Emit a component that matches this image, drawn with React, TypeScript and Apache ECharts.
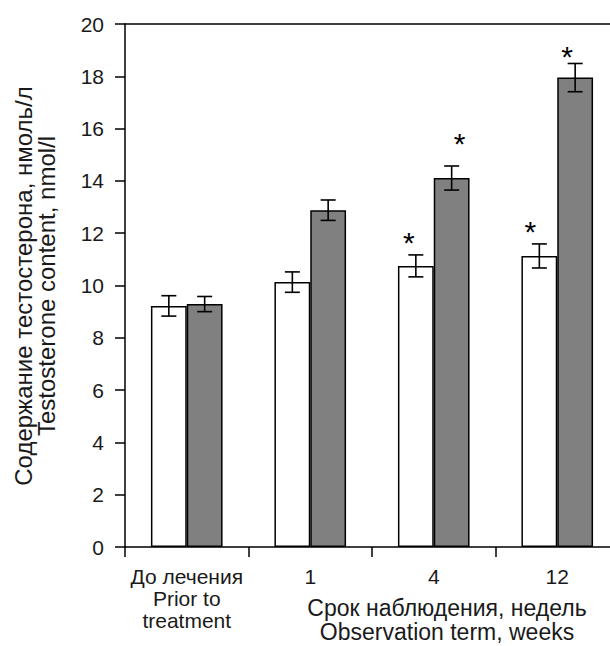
import React, { useEffect, useRef } from 'react';
import * as echarts from 'echarts';

const categories = ['До лечения\nPrior to\ntreatment', '1', '4', '12'];
const whiteValues = [9.22, 10.13, 10.75, 11.13];
const grayValues = [9.29, 12.88, 14.11, 17.95];
const whiteErrors = [0.39, 0.39, 0.42, 0.46];
const grayErrors = [0.29, 0.39, 0.46, 0.54];
const whiteStars: (number | null)[] = [null, null, 11.82, 12.24];
const grayStars: (number | null)[] = [null, null, 15.6, 18.93];
const yMin = 0;
const yMax = 20;
const yStep = 2;
const yAxisTitle = 'Содержание тестостерона, нмоль/л\nTestosterone content, nmol/l';
const xAxisTitle = 'Срок наблюдения, недель\nObservation term, weeks';

// horizontal nudges of the asterisks (pixels), styling only
const whiteStarShift = [0, 0, -7, -9];
const grayStarShift = [0, 0, 8, -8];

const FONT = '"Liberation Sans", Arial, sans-serif';
const BAR_FRAC = 0.29;

function errorSeries(values: number[], errors: number[], sign: number) {
  return {
    type: 'custom',
    z: 5,
    data: values.map((v, i) => [i, v - errors[i], v + errors[i]]),
    encode: { x: 0, y: [1, 2] },
    renderItem: (params: any, api: any) => {
      const i = api.value(0);
      const lo = api.coord([i, api.value(1)]);
      const hi = api.coord([i, api.value(2)]);
      const band = api.size([1, 0])[0];
      const cx = lo[0] + (sign * band * BAR_FRAC) / 2;
      const hw = 7.5;
      const st = { stroke: '#000', lineWidth: 1.6 };
      return {
        type: 'group',
        children: [
          { type: 'line', shape: { x1: cx, y1: lo[1], x2: cx, y2: hi[1] }, style: st },
          { type: 'line', shape: { x1: cx - hw, y1: lo[1], x2: cx + hw, y2: lo[1] }, style: st },
          { type: 'line', shape: { x1: cx - hw, y1: hi[1], x2: cx + hw, y2: hi[1] }, style: st },
        ],
      };
    },
  };
}

function starSeries(stars: (number | null)[], sign: number, shifts: number[]) {
  const data: number[][] = [];
  stars.forEach((s, i) => {
    if (s !== null) data.push([i, s]);
  });
  return {
    type: 'custom',
    z: 6,
    data,
    encode: { x: 0, y: 1 },
    renderItem: (params: any, api: any) => {
      const i = api.value(0);
      const p = api.coord([i, api.value(1)]);
      const band = api.size([1, 0])[0];
      const cx = p[0] + (sign * band * BAR_FRAC) / 2 + shifts[i];
      const fs = 30;
      return {
        type: 'text',
        x: cx,
        y: p[1] + fs * 0.14,
        style: {
          text: '*',
          fontSize: fs,
          fontFamily: FONT,
          fill: '#000',
          align: 'center',
          verticalAlign: 'middle',
        },
      };
    },
  };
}

export default function App() {
  const ref = useRef<HTMLDivElement>(null);
  useEffect(() => {
    if (!ref.current) return;
    const chart = echarts.init(ref.current, undefined, { renderer: 'svg' });
    const axisLine = { show: true, lineStyle: { color: '#000', width: 1.5 } };
    chart.setOption({
      animation: false,
      backgroundColor: '#fff',
      grid: { left: 125, top: 24, bottom: 99, right: 0, containLabel: false },
      xAxis: [
        {
          type: 'category',
          data: categories,
          position: 'bottom',
          axisLine,
          axisTick: { show: true, length: 10, lineStyle: { color: '#000', width: 1.5 } },
          axisLabel: {
            color: '#1a1a1a',
            fontFamily: FONT,
            fontSize: 21,
            lineHeight: 22,
            margin: 18,
            interval: 0,
          },
          splitLine: { show: false },
        },
        {
          type: 'category',
          data: categories,
          position: 'top',
          axisLine,
          axisTick: { show: false },
          axisLabel: { show: false },
          splitLine: { show: false },
        },
      ],
      yAxis: {
        type: 'value',
        min: yMin,
        max: yMax,
        interval: yStep,
        axisLine,
        axisTick: { show: true, length: 10, lineStyle: { color: '#000', width: 1.5 } },
        axisLabel: { color: '#1a1a1a', fontFamily: FONT, fontSize: 21, margin: 21 },
        splitLine: { show: false },
      },
      graphic: [
        {
          type: 'text',
          x: 35,
          y: 286,
          rotation: Math.PI / 2,
          style: {
            text: yAxisTitle,
            fontFamily: FONT,
            fontSize: 24,
            lineHeight: 23,
            fill: '#1a1a1a',
            align: 'center',
            verticalAlign: 'middle',
          },
        },
        {
          type: 'text',
          x: 447,
          y: 620,
          style: {
            text: xAxisTitle,
            fontFamily: FONT,
            fontSize: 23,
            lineHeight: 24,
            fill: '#1a1a1a',
            align: 'center',
            verticalAlign: 'middle',
          },
        },
      ],
      series: [
        {
          type: 'bar',
          data: whiteValues,
          barWidth: BAR_FRAC * 100 + '%',
          barGap: '0%',
          itemStyle: { color: '#ffffff', borderColor: '#000', borderWidth: 1.5 },
        },
        {
          type: 'bar',
          data: grayValues,
          barWidth: BAR_FRAC * 100 + '%',
          barGap: '0%',
          itemStyle: { color: '#808080', borderColor: '#000', borderWidth: 1.5 },
        },
        errorSeries(whiteValues, whiteErrors, -1),
        errorSeries(grayValues, grayErrors, 1),
        starSeries(whiteStars, -1, whiteStarShift),
        starSeries(grayStars, 1, grayStarShift),
      ],
    });
    return () => chart.dispose();
  }, []);
  return (
    <div style={{ position: 'absolute', left: 0, top: 0, width: 610, height: 646, overflow: 'hidden', background: '#fff' }}>
      <div ref={ref} style={{ width: 619, height: 646 }} />
    </div>
  );
}
